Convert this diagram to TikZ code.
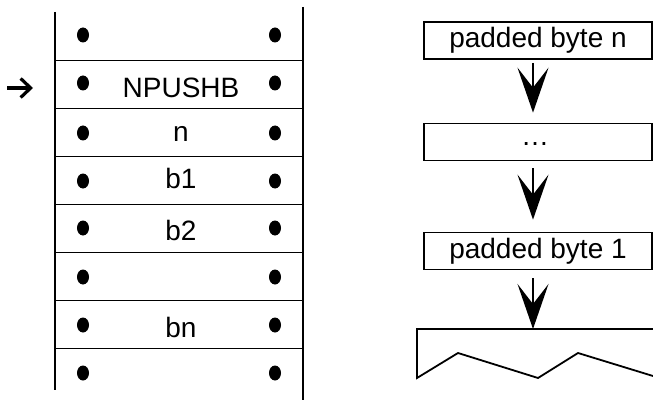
\documentclass[tikz,border=0pt]{standalone}
\usepackage{fontspec}
\setmainfont{Liberation Sans}
\usetikzlibrary{shapes.geometric, arrows.meta, positioning, calc}

\begin{document}
\begin{tikzpicture}[
  x=0.5pt, y=-0.5pt,
  every node/.style={font=\fontsize{14pt}{16pt}\selectfont},
  dot/.style={ellipse, fill=black, inner sep=0pt, minimum width=6pt, minimum height=7.5pt},
  lbl/.style={inner sep=0pt},
  bytebox/.style={rectangle, draw=black, line width=0.85pt, minimum width=114pt,
    minimum height=18.5pt, inner sep=0pt},
  arr/.style={-{Stealth[length=22.5pt, width=15.5pt, inset=10pt]}, line width=1pt},
  wall/.style={line width=1pt},
  sep/.style={line width=0.85pt},
  ptr/.style={-{Straight Barb[length=5pt, width=9.5pt]}, line width=1.6pt}
]
\useasboundingbox (0,0) rectangle (653,401);

% ---- STACK ----
\draw[wall] (55,12) -- (55,390);
\draw[wall] (303,7) -- (303,400);
\draw[sep] (55,60.5) -- (303,60.5)  (55,108.5) -- (303,108.5)
  (55,156.5) -- (303,156.5)  (55,204.5) -- (303,204.5)
  (55,252.5) -- (303,252.5)  (55,300.5) -- (303,300.5)
  (55,348.5) -- (303,348.5);

\node[dot] (l1) at (83,35) {};
\node[dot] (r1) at (275,35) {};
\node[dot] (l2) at (83,83) {};
\node[lbl] (op) at (181,88) {NPUSHB};
\node[dot] (r2) at (275,83) {};
\node[dot] (l3) at (83,133) {};
\node[lbl] (cnt) at (181,133.5) {n};
\node[dot] (r3) at (275,133) {};
\node[dot] (l4) at (83,181) {};
\node[lbl] (b1) at (181,178) {b1};
\node[dot] (r4) at (275,181) {};
\node[dot] (l5) at (83,228) {};
\node[lbl] (b2) at (181,230) {b2};
\node[dot] (r5) at (275,228) {};
\node[dot] (l6) at (83,277) {};
\node[dot] (r6) at (275,277) {};
\node[dot] (l7) at (83,325) {};
\node[lbl] (bn) at (181,327.5) {bn};
\node[dot] (r7) at (275,325) {};
\node[dot] (l8) at (83,373) {};
\node[dot] (r8) at (275,373) {};

% instruction pointer
\coordinate (ptrtail) at (7,88);
\coordinate (ptrtip) at (33,88);
\draw[ptr] (ptrtail) -- (ptrtip);

% ---- PUSHED BYTES ----
\node[bytebox] (pbn) at (538,40.5) {padded byte n};
\node[bytebox] (pmid) at (538,142) {};
\node[lbl, anchor=base] (ell) at (535,146) {…};
\node[bytebox] (pb1) at (538,251) {padded byte 1};
\coordinate (stk) at (533,329);

\draw[arr, shorten <=1.5pt, shorten >=5pt] ([xshift=-2.5pt]pbn.south) -- ([xshift=-2.5pt]pmid.north);
\draw[arr, shorten <=3.5pt, shorten >=6pt] ([xshift=-2.5pt]pmid.south) -- ([xshift=-2.5pt]pb1.north);
\draw[arr, shorten <=4pt] ([xshift=-2.5pt]pb1.south) -- (stk);

% stack top
\draw[line width=0.9pt] (653,376) -- (578,353) -- (538,378) -- (458,353)
  -- (417,378) -- (417,329) -- (653,329);
\end{tikzpicture}
\end{document}
